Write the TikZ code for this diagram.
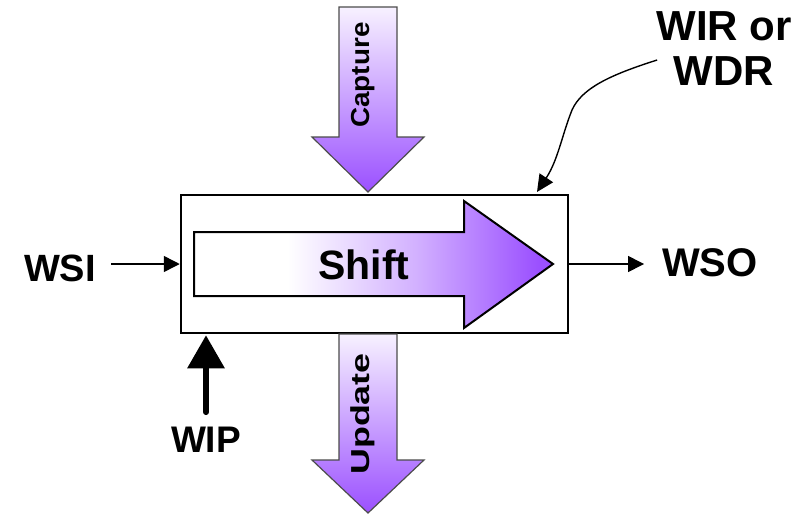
\documentclass[tikz,border=0pt]{standalone}
\usepackage{fontspec}
\setmainfont{Liberation Sans}
\usepackage{graphicx}
\usetikzlibrary{arrows.meta}
\definecolor{purp}{RGB}{155,80,255}
\pgfdeclarehorizontalshading{shiftshade}{100bp}{color(0bp)=(white); color(25bp)=(white); color(38bp)=(white); color(56bp)=(purp!45!white); color(73bp)=(purp); color(100bp)=(purp)}
\tikzset{
  lbl/.style={inner sep=0pt, font=\fontsize{38}{44}\selectfont\bfseries},
  vlbl/.style={inner sep=0pt, rotate=90, font=\fontsize{26}{30}\selectfont\bfseries},
  fatarrow/.style={draw=black!70, line width=1.2pt, top color=purp!8!white, middle color=purp!38!white, bottom color=purp},
  thin/.style={line width=1.5pt, -{Triangle[length=16pt,width=16pt]}},
}
\begin{document}
\begin{tikzpicture}[x=1pt,y=-1pt]
\useasboundingbox (0,0) rectangle (800,514);
% register box
\node[draw, line width=2.5pt, fill=white, minimum width=387pt, minimum height=138pt, inner sep=0pt] (box) at (374.5,264) {};
% shift arrow
\draw[line width=2pt, shading=shiftshade] (194,232) -- (464,232) -- (464,201) -- (553,264) -- (464,328) -- (464,296) -- (194,296) -- cycle;
\node[lbl, font=\fontsize{41}{48}\selectfont\bfseries] (shift) at (364,265) {Shift};
% capture arrow
\draw[fatarrow] (339,7) -- (397,7) -- (397,137) -- (424,137) -- (368,192) -- (312,137) -- (339,137) -- cycle;
\node[vlbl] (capture) at (363,75) {\scalebox{1.07}[1]{Capture}};
% update arrow
\draw[fatarrow] (339,334) -- (397,334) -- (397,460) -- (424,460) -- (368,513) -- (312,460) -- (339,460) -- cycle;
\node[vlbl] (update) at (363,414) {\scalebox{1.38}[1]{Update}};
% WSI / WSO
\node[lbl] (wsi) at (60,268) {WSI};
\draw[thin] ([xshift=15pt]wsi.east |- box.west) -- (box.west);
\node[lbl, font=\fontsize{40}{46}\selectfont\bfseries] (wso) at (710,263) {WSO};
\draw[thin] (box.east) -- ([xshift=-18pt]wso.west |- box.east);
% WIP
\node[lbl, font=\fontsize{37}{44}\selectfont\bfseries] (wip) at (206,440) {WIP};
\coordinate (wipend) at (box.south -| wip.center);
\draw[line width=6pt, line cap=round, -{Triangle[length=33pt,width=36pt]}] ([yshift=15pt]wip.north) -- ([yshift=-1pt]wipend);
% WIR or WDR
\node[lbl, align=center, font=\fontsize{42}{45}\selectfont\bfseries] (wir) at (724,49) {WIR or\\WDR};
\coordinate (wirend) at (537,192);
\draw[line width=1.4pt, -{Triangle[length=17pt,width=16pt]}] ([yshift=-11pt, xshift=1pt]wir.west) .. controls (610,75) and (582,88) .. (572,110) .. controls (562,135) and (558,160) .. (wirend);
\end{tikzpicture}
\end{document}
